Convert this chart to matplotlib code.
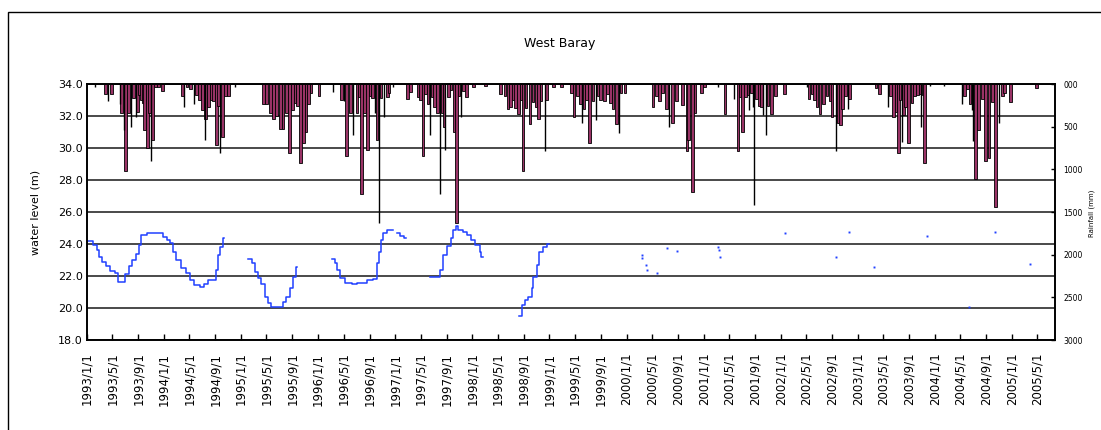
import numpy as np
import pandas as pd
import matplotlib
matplotlib.use("Agg")
import matplotlib.pyplot as plt
import matplotlib.dates as mdates
from matplotlib.patches import Rectangle
from matplotlib.ticker import FuncFormatter, FixedLocator, FixedFormatter

# water level at West Baray (m), NaN marks a break in the record
wl_dates = [
    "1993-01-01", "1993-01-30", "1993-02-16", "1993-02-27", "1993-03-12", "1993-03-30",
    "1993-04-18", "1993-05-12", "1993-05-27", "1993-07-02", "1993-07-19", "1993-08-04",
    "1993-08-20", "1993-09-05", "1993-09-16", "1993-10-10", "1993-12-04", "1993-12-27",
    "1994-01-13", "1994-01-29", "1994-02-14", "1994-03-01", "1994-03-23", "1994-04-17",
    "1994-05-05", "1994-05-25", "1994-06-19", "1994-07-07", "1994-07-28", "1994-08-29",
    "1994-09-04", "1994-09-14", "1994-09-22", "1994-10-05", "1994-10-10",
    "1995-02-04", "1995-02-20", "1995-03-06", "1995-03-21", "1995-04-07", "1995-04-23",
    "1995-05-08", "1995-05-24", "1995-07-10", "1995-07-18", "1995-08-04", "1995-08-19",
    "1995-09-05", "1995-09-20", "1995-09-25",
    "1996-03-09", "1996-03-20", "1996-04-01", "1996-04-13", "1996-05-07", "1996-06-08",
    "1996-07-01", "1996-08-18", "1996-09-19", "1996-10-04", "1996-10-15", "1996-10-25",
    "1996-11-05", "1996-11-21", "1996-12-15", "1996-12-20",
    "1997-01-08", "1997-01-23", "1997-02-13", "1997-02-20",
    "1997-06-14", "1997-07-22", "1997-07-30", "1997-08-16", "1997-09-02", "1997-09-20",
    "1997-10-03", "1997-10-14", "1997-10-26", "1997-11-16", "1997-12-05", "1997-12-25",
    "1998-01-14", "1998-02-07", "1998-02-12", "1998-02-18",
    "1998-08-11", "1998-08-22", "1998-09-07", "1998-09-23", "1998-10-09", "1998-10-16",
    "1998-11-02", "1998-11-14", "1998-12-03", "1998-12-22", "1999-01-01",
]
wl_level = [
    24.2, 23.94, 23.6, 23.2, 22.9, 22.6,
    22.3, 22.2, 21.63, 22.1, 22.6, 23.0,
    23.4, 23.94, 24.56, 24.67, 24.67, 24.46,
    24.25, 24.04, 23.52, 23.0, 22.48, 22.2,
    21.75, 21.44, 21.3, 21.5, 21.75, 21.75,
    22.37, 23.3, 23.8, 24.35, np.nan,
    23.04, 22.8, 22.27, 21.9, 21.5, 20.7,
    20.3, 20.05, 20.05, 20.4, 20.7, 21.23,
    21.96, 22.58, np.nan,
    23.04, 22.8, 22.37, 21.85, 21.58, 21.5,
    21.58, 21.75, 21.8, 22.8, 23.5, 24.25,
    24.67, 24.88, 24.88, np.nan,
    24.67, 24.5, 24.35, np.nan,
    21.96, 21.96, 22.37, 23.3, 23.9, 24.35,
    24.88, 25.13, 24.88, 24.77, 24.56, 24.25,
    23.94, 23.52, 23.2, np.nan,
    19.5, 20.19, 20.5, 20.7, 21.23, 21.96,
    22.69, 23.52, 23.84, 24.0, np.nan,
]

# isolated water level readings after 1999
dot_dates = [
    "2000-03-13", "2000-03-16", "2000-04-03", "2000-04-08", "2000-05-23", "2000-07-12",
    "2000-08-29", "2001-03-10", "2001-03-12", "2001-03-19", "2002-01-22", "2002-09-21",
    "2002-11-20", "2003-03-20", "2003-11-24", "2004-06-09", "2004-10-10", "2005-03-27",
]
dot_level = [
    23.3, 23.1, 22.7, 22.4, 22.2, 23.73,
    23.56, 23.8, 23.6, 23.2, 24.67, 23.2,
    24.77, 22.58, 24.52, 20.08, 24.77, 22.75,
]

# rainfall (mm), drawn as filled bars hanging from the top
rain_dates = [
    "1993-03-30", "1993-04-28", "1993-06-14", "1993-07-03", "1993-07-17", "1993-08-11",
    "1993-08-29", "1993-09-06", "1993-09-16", "1993-09-25", "1993-10-02", "1993-10-14",
    "1993-10-23", "1993-11-09", "1993-11-23", "1993-12-05", "1993-12-26",
    "1994-03-29", "1994-04-20", "1994-05-07", "1994-06-05", "1994-06-19", "1994-07-03",
    "1994-07-17", "1994-08-01", "1994-08-13", "1994-08-24", "1994-09-06", "1994-09-15",
    "1994-10-04", "1994-10-20", "1994-11-04",
    "1995-04-16", "1995-05-02", "1995-05-21", "1995-06-05", "1995-06-19", "1995-07-08",
    "1995-07-19", "1995-08-03", "1995-08-19", "1995-09-01", "1995-09-13", "1995-09-25",
    "1995-10-11", "1995-10-23", "1995-11-04", "1995-11-16", "1995-11-28", "1996-01-05",
    "1996-04-20", "1996-05-16", "1996-06-04", "1996-07-03", "1996-07-14", "1996-07-26",
    "1996-08-08", "1996-08-22", "1996-09-03", "1996-09-15", "1996-10-06", "1996-10-25",
    "1996-11-23", "1996-12-02",
    "1997-02-28", "1997-03-15", "1997-04-18", "1997-05-01", "1997-05-12", "1997-05-25",
    "1997-06-04", "1997-06-23", "1997-07-07", "1997-07-21", "1997-08-10", "1997-08-19",
    "1997-09-08", "1997-09-22", "1997-10-06", "1997-10-19", "1997-10-29", "1997-11-18",
    "1997-12-05", "1998-01-05",
    "1998-03-05", "1998-05-14", "1998-06-04", "1998-06-18", "1998-07-02", "1998-07-14",
    "1998-07-25", "1998-08-07", "1998-08-21", "1998-08-28", "1998-09-12", "1998-10-01",
    "1998-10-15", "1998-10-29", "1998-11-10", "1998-11-22", "1998-12-18", "1999-01-19",
    "1999-02-26",
    "1999-04-15", "1999-04-27", "1999-05-15", "1999-05-27", "1999-06-13", "1999-06-25",
    "1999-07-11", "1999-07-26", "1999-08-19", "1999-08-30", "1999-09-17", "1999-10-03",
    "1999-10-17", "1999-10-29", "1999-11-13", "1999-12-06", "1999-12-25",
    "2000-05-06", "2000-05-22", "2000-06-04", "2000-06-18", "2000-07-10", "2000-08-07",
    "2000-08-26", "2000-09-24", "2000-10-13", "2000-10-22", "2000-11-07", "2000-11-20",
    "2000-12-20", "2001-01-04",
    "2001-04-12", "2001-06-12", "2001-06-22", "2001-07-02", "2001-07-16", "2001-07-30",
    "2001-08-16", "2001-09-07", "2001-09-20", "2001-10-02", "2001-11-01", "2001-11-19",
    "2001-12-06", "2002-01-18",
    "2002-05-14", "2002-05-29", "2002-06-08", "2002-06-22", "2002-07-06", "2002-07-22",
    "2002-08-08", "2002-08-23", "2002-09-01", "2002-10-01", "2002-10-12", "2002-10-21",
    "2002-11-03", "2002-11-22",
    "2003-03-28", "2003-04-14", "2003-06-03", "2003-06-20", "2003-07-01", "2003-07-12",
    "2003-07-20", "2003-08-05", "2003-08-13", "2003-08-29", "2003-09-14", "2003-09-27",
    "2003-10-09", "2003-10-22", "2003-11-07", "2003-11-12",
    "2004-05-19", "2004-06-02", "2004-06-15", "2004-07-11", "2004-07-26", "2004-08-12",
    "2004-08-27", "2004-09-13", "2004-09-29", "2004-10-14", "2004-11-15", "2004-11-27",
    "2004-12-24", "2005-04-25",
]
rain_mm = [
    115, 115, 340, 1020, 340, 165,
    325, 129, 188, 223, 540, 754,
    340, 656, 30, 35, 82,
    141, 35, 59, 129, 188, 305,
    414, 266, 188, 200, 715, 258,
    625, 145, 141,
    234, 234, 340, 414, 380, 531,
    531, 340, 812, 300, 220, 260,
    930, 688, 560, 234, 105, 141,
    188, 844, 340, 340, 150, 1293,
    340, 773, 145, 165, 656, 165,
    150, 100,
    176, 90, 155, 188, 844, 117,
    234, 155, 266, 340, 340, 500,
    155, 70, 559, 1625, 141, 80,
    155, 30,
    20, 117, 141, 297, 266, 188,
    285, 355, 188, 1020, 285, 473,
    215, 266, 414, 200, 188, 30,
    30,
    105, 391, 141, 234, 297, 188,
    688, 200, 141, 188, 200, 117,
    223, 297, 473, 105, 100,
    266, 141, 200, 105, 297, 453,
    200, 250, 781, 656, 1262, 340,
    100, 40,
    352, 781, 150, 567, 150, 130,
    110, 180, 258, 266, 255, 352,
    141, 117,
    176, 117, 188, 266, 355, 234,
    141, 200, 391, 453, 480, 297,
    141, 176,
    50, 117, 141, 391, 330, 812,
    188, 360, 266, 688, 223, 145,
    129, 120, 129, 930,
    141, 60, 234, 1117, 539, 176,
    899, 871, 207, 1445, 141, 100,
    207, 50,
]

# single-day rainfall, drawn as thin black strokes
spike_dates = [
    "1993-02-08", "1993-04-11", "1993-06-08", "1993-06-24", "1993-07-29", "1993-08-20",
    "1993-10-30", "1994-04-07", "1994-05-21", "1994-07-12", "1994-09-22", "1994-12-05",
    "1996-03-10", "1996-05-02", "1996-06-14", "1996-09-27", "1996-10-15", "1996-11-06",
    "1996-12-21", "1997-06-14", "1997-07-30", "1997-08-26", "1997-11-09", "1998-12-11",
    "1999-06-04", "1999-08-09", "1999-11-27", "2000-07-18", "2001-03-11", "2001-05-24",
    "2001-08-05", "2001-08-23", "2001-08-29", "2001-10-10", "2001-10-24", "2002-05-04",
    "2002-09-21", "2002-11-15", "2003-05-22", "2003-07-28", "2003-10-26", "2003-12-10",
    "2004-02-12", "2004-05-07", "2004-06-26", "2004-07-01", "2004-10-29",
]
spike_mm = [
    35, 205, 234, 540, 500, 383,
    903, 266, 234, 656, 812, 35,
    94, 200, 598, 340, 1625, 383,
    30, 598, 1293, 773, 383, 781,
    453, 422, 570, 500, 30, 176,
    300, 270, 1418, 360, 598, 30,
    781, 297, 266, 676, 500, 20,
    20, 234, 300, 670, 461,
]

level_ticks = np.arange(18, 34.1, 2)
rain_ticks = [0, 500, 1000, 1500, 2000, 2500, 3000]
rain_tick_labels = ["000", "500", "1000", "1500", "2000", "2500", "3000"]

W, H = 1101, 430
fig = plt.figure(figsize=(W / 100, H / 100), dpi=100)
fig.patch.set_facecolor("white")

# chart area border, open on the right and bottom
fig.patches.append(Rectangle((8 / W, -0.5), 2.0, 1 - 12 / H + 0.5,
                             transform=fig.transFigure, fill=False,
                             edgecolor="black", lw=1.0))

ax = fig.add_axes([87 / W, 90 / H, 968 / W, 256 / H])
ax2 = ax.twinx()

wl_x = mdates.date2num(pd.to_datetime(wl_dates))
dot_x = mdates.date2num(pd.to_datetime(dot_dates))
rain_x = mdates.date2num(pd.to_datetime(rain_dates))
spike_x = mdates.date2num(pd.to_datetime(spike_dates))

ax.step(wl_x, wl_level, where="post", color="#2040ff", lw=1.1)
ax.plot(dot_x, dot_level, ls="none", marker="s", ms=1.4, mfc="#2040ff",
        mec="#2040ff", mew=0)

ax2.bar(rain_x, rain_mm, width=13, color="#993366", edgecolor="black",
        linewidth=0.6, align="center")
ax2.vlines(spike_x, 0, spike_mm, color="black", lw=1.0)

# primary axis: water level
ax.set_ylim(18, 34)
ax.set_yticks(level_ticks)
ax.yaxis.set_major_formatter(FuncFormatter(lambda v, p: f"{v:.1f}"))
ax.tick_params(axis="y", length=0, pad=3, labelsize=8)
ax.grid(axis="y", color="#3a3a3a", lw=1.3)
ax.set_axisbelow(True)

ax.set_xlim(mdates.date2num(pd.Timestamp("1993-01-01")),
            mdates.date2num(pd.Timestamp("2005-07-23")))
ax.xaxis.set_major_locator(mdates.MonthLocator(bymonth=[1, 5, 9]))
ax.xaxis.set_major_formatter(FuncFormatter(
    lambda v, p: "{0.year}/{0.month}/{0.day}".format(mdates.num2date(v))))
ax.tick_params(axis="x", direction="in", length=4, width=1, pad=9,
               labelsize=8.5, labelrotation=90)
for lab in ax.get_xticklabels():
    lab.set_va("top")

# secondary axis: rainfall, zero at the top
ax2.set_ylim(3000, 0)
ax2.yaxis.set_major_locator(FixedLocator(rain_ticks))
ax2.yaxis.set_major_formatter(FixedFormatter(rain_tick_labels))
ax2.tick_params(axis="y", direction="in", length=3, width=1, pad=6, labelsize=5.5)

for a in (ax, ax2):
    for s in a.spines.values():
        s.set_color("black")
        s.set_linewidth(1.2)

fig.text(560 / W, 1 - 43 / H, "West Baray", ha="center", va="center", fontsize=9)
fig.text(35 / W, 1 - 212 / H, "water level (m)", rotation=90, ha="center",
         va="center", fontsize=8)
fig.text(1092 / W, 1 - 213 / H, "Rainfall (mm)", rotation=90, ha="center",
         va="center", fontsize=5)

fig.savefig("out.png", dpi=100)
